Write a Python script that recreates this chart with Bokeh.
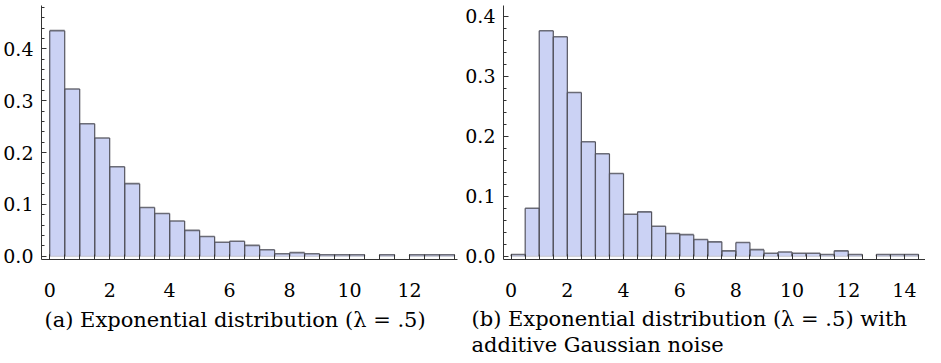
from bokeh.plotting import figure
from bokeh.models import Range1d, FixedTicker, PrintfTickFormatter, Title
from bokeh.layouts import row
from bokeh.embed import file_html
from bokeh.resources import INLINE

# ---- data (relative frequencies per bin, bin width 0.5) ----
BIN_WIDTH = 0.5
left_heights = [0.435, 0.3225, 0.2556, 0.228, 0.1725, 0.14, 0.094, 0.0825, 0.068,
                0.05, 0.038, 0.027, 0.029, 0.021, 0.0125, 0.005, 0.007, 0.005,
                0.003, 0.003, 0.003, 0.0, 0.003, 0.0, 0.003, 0.003, 0.003]
right_heights = [0.003, 0.08, 0.376, 0.366, 0.273, 0.191, 0.171, 0.138, 0.07,
                 0.074, 0.05, 0.038, 0.036, 0.028, 0.024, 0.009, 0.023, 0.011,
                 0.005, 0.007, 0.005, 0.005, 0.003, 0.009, 0.003, 0.0, 0.003,
                 0.003, 0.003]
left_xticks = [0, 2, 4, 6, 8, 10, 12]
right_xticks = [0, 2, 4, 6, 8, 10, 12, 14]
yticks = [0.0, 0.1, 0.2, 0.3, 0.4]
caption_a = "(a) Exponential distribution (λ = .5)"
caption_b = "(b) Exponential distribution (λ = .5) with\nadditive Gaussian noise"

FONT = "DejaVu Serif"
FILL = "#cbd2f4"
EDGE = "#55555f"
AXIS = "#333333"


def hist(heights, xticks, xr, yr, width, bl, br):
    p = figure(width=width, height=363, output_backend="svg", toolbar_location=None,
               x_range=Range1d(*xr), y_range=Range1d(*yr),
               min_border_left=bl, min_border_right=br, min_border_top=5,
               min_border_bottom=98)
    p.outline_line_color = None
    p.xgrid.visible = False
    p.ygrid.visible = False
    lefts, rights, tops = [], [], []
    for i, h in enumerate(heights):
        if h > 0:
            lefts.append(i * BIN_WIDTH)
            rights.append((i + 1) * BIN_WIDTH)
            tops.append(h)
    zeros = [0] * len(tops)
    p.quad(left=lefts, right=rights, bottom=zeros, top=tops,
           fill_color=FILL, line_color=None)
    p.segment(x0=lefts, x1=rights, y0=zeros, y1=zeros, line_color="#c4c4cc", line_width=1)
    p.segment(x0=lefts, x1=lefts, y0=zeros, y1=tops, line_color=EDGE, line_width=1.2)
    p.segment(x0=rights, x1=rights, y0=zeros, y1=tops, line_color=EDGE, line_width=1.2)
    p.segment(x0=lefts, x1=rights, y0=tops, y1=tops, line_color=EDGE, line_width=1.6,
              line_alpha=0.85)

    xminor = [i * BIN_WIDTH for i in range(int(xr[1] / BIN_WIDTH) + 1)]
    p.xaxis.ticker = FixedTicker(ticks=xticks, minor_ticks=xminor)
    yminor = [round(0.02 * i, 2) for i in range(int(yr[1] / 0.02) + 1)]
    p.yaxis.ticker = FixedTicker(ticks=yticks, minor_ticks=yminor)
    p.yaxis.formatter = PrintfTickFormatter(format="%.1f")
    for ax in (p.xaxis[0], p.yaxis[0]):
        ax.axis_line_color = AXIS
        ax.major_tick_line_color = AXIS
        ax.minor_tick_line_color = AXIS
        ax.major_tick_out = 0
        ax.minor_tick_out = 0
        ax.major_label_text_font = FONT
        ax.major_label_text_font_size = "19px"
        ax.major_label_text_color = "black"
    p.xaxis.major_tick_in = 5
    p.xaxis.minor_tick_in = 5
    p.yaxis.major_tick_in = 5
    p.yaxis.minor_tick_in = 3
    p.xaxis.major_label_standoff = 23
    p.yaxis.major_label_standoff = 8
    return p


def caption(p, text, offset):
    t = Title(text=text, align="left", offset=offset, standoff=12,
              text_font=FONT, text_font_size="21px", text_font_style="normal",
              text_color="black", text_line_height=1.1)
    p.add_layout(t, "below")


p1 = hist(left_heights, left_xticks, (-0.274, 13.6), (-0.0062, 0.4835), 462, 37, 5)
caption(p1, caption_a, 3)
p2 = hist(right_heights, right_xticks, (-0.272, 14.75), (-0.0054, 0.418), 463, 38, 0)
caption(p2, caption_b, -32)

layout = row(p1, p2)
open("out.html", "w").write(file_html(layout, INLINE))
